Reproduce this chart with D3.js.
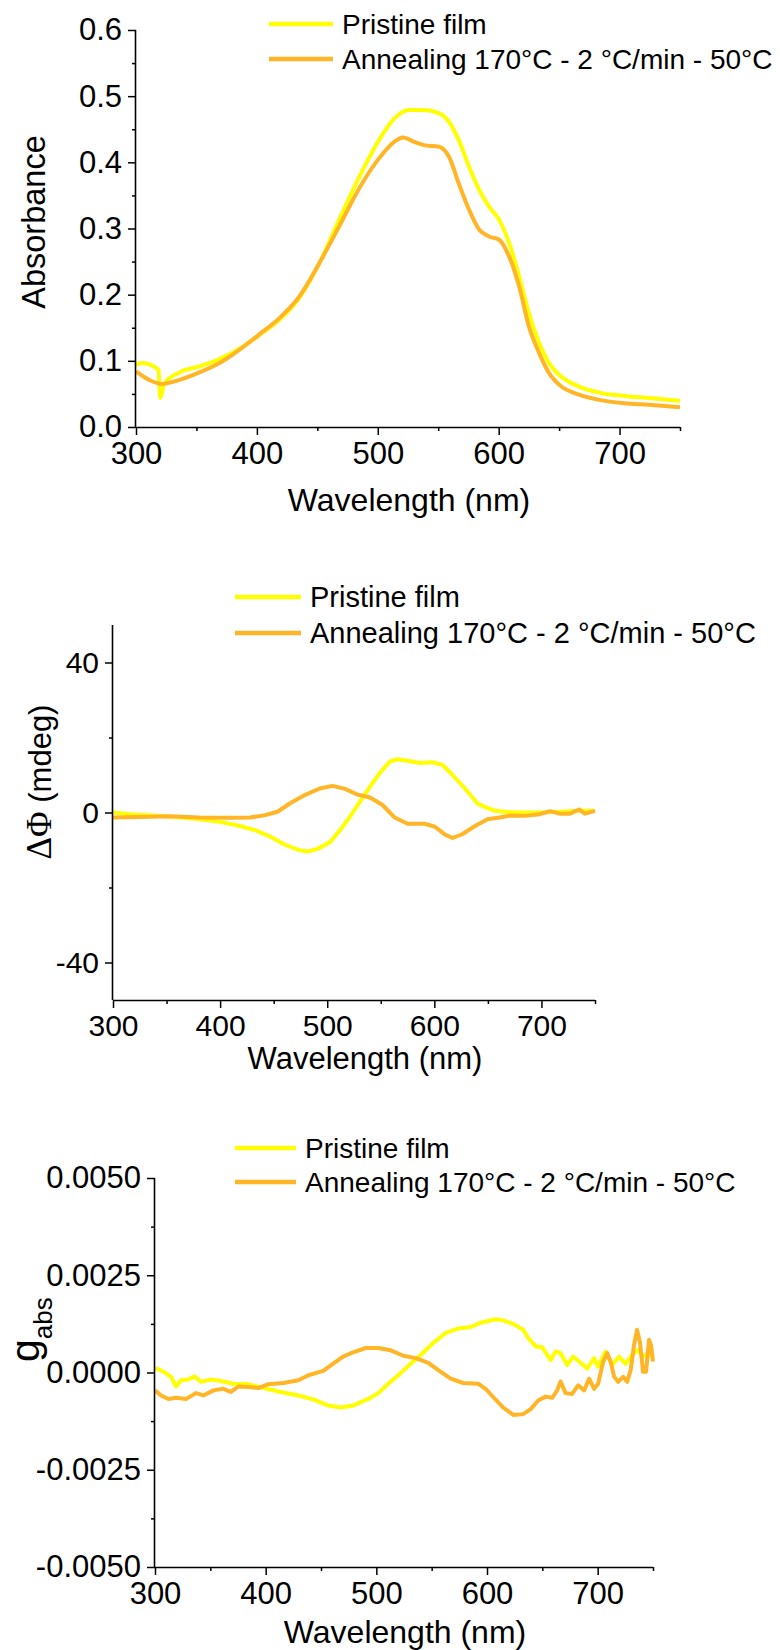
<!DOCTYPE html>
<html>
<head>
<meta charset="utf-8">
<script src="https://cdn.jsdelivr.net/npm/d3@7"></script>
<style>
  html, body { margin: 0; padding: 0; background: #fff; }
  svg { display: block; }
  text { font-family: "Liberation Sans", Arial, sans-serif; fill: #000; }
</style>
</head>
<body>
<svg id="chart" width="780" height="1650"></svg>
<script>
// ---------------- DATA ----------------
const seriesNames = ["Pristine film", "Annealing 170°C - 2 °C/min - 50°C"];
const seriesColors = ["#FFFF00", "#FFB526"];

const xTicks = [300, 400, 500, 600, 700];
const xMinorTicks = [350, 450, 550, 650, 750];

// Chart 1: Absorbance
const absTicks = [0.0, 0.1, 0.2, 0.3, 0.4, 0.5, 0.6];
const absMinorTicks = [0.05, 0.15, 0.25, 0.35, 0.45, 0.55];
const absPristine = [
  [300,0.094],[305,0.0966],[318.6,0.0866],[320,0.044],[323.5,0.066],[336,0.0825],
  [352.5,0.0916],[369,0.1026],[389.7,0.123],[402,0.139],[418.6,0.162],[435,0.195],
  [451.6,0.2475],[468,0.313],[484.7,0.378],[501,0.4336],[513.6,0.466],[526,0.479],
  [538,0.479],[550.8,0.474],[559,0.461],[567,0.4336],[575.6,0.393],[584,0.358],
  [592,0.333],[600.4,0.313],[608.7,0.278],[617,0.227],[625,0.172],[633.5,0.127],
  [641.7,0.0966],[650,0.079],[666.5,0.061],[683,0.052],[703.7,0.047],[724.4,0.0438],
  [750,0.0397]
];
const absAnnealed = [
  [300,0.084],[311,0.071],[321.5,0.065],[332,0.069],[352.5,0.0825],[369,0.0966],
  [385.5,0.1167],[402,0.140],[418.6,0.1645],[435,0.197],[451.6,0.2475],[468,0.303],
  [484.7,0.361],[501,0.406],[513.6,0.431],[521,0.4376],[530,0.431],[538,0.426],
  [550.8,0.4235],[559,0.408],[567,0.368],[575.6,0.328],[584,0.298],[592,0.288],
  [600.4,0.283],[608.7,0.2575],[617,0.212],[625,0.152],[633.5,0.1117],[641.7,0.0815],
  [650,0.064],[666.5,0.0488],[683,0.041],[703.7,0.036],[724.4,0.0337],[750,0.030]
];

// Chart 2: ΔΦ (mdeg)
const cdTicks = [-40, 0, 40];
const cdMinorTicks = [-20, 20];
const cdPristine = [
  [300,0],[316,-0.45],[334.5,-0.7],[358,-1.2],[381,-1.8],[400,-2.5],[418.6,-3.6],
  [432.6,-4.7],[446.6,-6.4],[460.6,-8.6],[474.6,-10.1],[481.6,-10.4],[491,-9.7],
  [502.6,-7.9],[512,-4.7],[521,-1.2],[530.6,2.9],[540,6.9],[549,10.5],[558.6,13.6],
  [565.6,14.2],[575,13.8],[586.6,13.2],[598,13.4],[607.6,12.7],[617,10],[628.6,6.4],
  [640.3,2.4],[647,1.5],[656.6,0.45],[666,0.2],[680,0],[698.6,0],[717,0.2],[736,0.45],
  [750,0.45]
];
const cdAnnealed = [
  [300,-1.35],[325,-1.2],[353,-1.0],[381,-1.35],[409,-1.4],[428,-1.35],[442,-0.7],
  [453.6,0.2],[465,2.4],[479,4.65],[493,6.4],[505,7.1],[516.6,6.3],[528,4.8],
  [540,4.0],[551.6,2.0],[563,-1.35],[575,-3.0],[591,-3.0],[600.6,-3.8],[610,-5.9],
  [617,-6.8],[626,-5.8],[638,-3.6],[649.6,-1.8],[661,-1.35],[670.6,-0.8],[684.6,-0.9],
  [698.6,-0.45],[708,0.35],[717,-0.3],[726.6,-0.3],[735,0.8],[740.6,-0.3],[750,0.45]
];

// Chart 3: g_abs
const gTicks = [-0.005, -0.0025, 0, 0.0025, 0.005];
const gTickLabels = ["-0.0050", "-0.0025", "0.0000", "0.0025", "0.0050"];
const gMinorTicks = [-0.00375, -0.00125, 0.00125, 0.00375];
const gPristine = [
  [300,0.00012],[307.7,0.00002],[314.4,-0.00011],[319,-0.00036],[323.5,-0.0002],
  [330,-0.00018],[335.7,-0.0001],[341.5,-0.00024],[350.6,-0.00018],[359.6,-0.00022],
  [370.9,-0.00029],[384.4,-0.0003],[398,-0.0004],[411.5,-0.00049],[429.6,-0.00059],
  [443,-0.00069],[456.6,-0.00085],[468,-0.0009],[479,-0.00085],[492.7,-0.00068],
  [501.8,-0.00053],[510.8,-0.00029],[519.8,-0.00007],[528.9,0.00017],[540,0.00045],
  [551.4,0.00076],[562.7,0.00102],[574,0.00113],[585.3,0.00117],[594.3,0.00128],
  [607.9,0.00137],[614.6,0.00134],[623.7,0.00125],[632.7,0.0011],[637.2,0.00089],
  [644,0.00067],[649.8,0.00065],[657.5,0.00032],[662,0.00054],[666.5,0.0005],
  [672.4,0.00019],[677.8,0.00041],[684.6,0.00025],[690.5,0.0001],[696.8,0.00037],
  [700.4,0.00015],[707.2,0.00054],[713,0.00019],[719.4,0.00041],[725.2,0.00022],
  [731,0.00045],[736.5,0.00058],[741,0.00041],[745.5,0.0005],[750,0.00037]
];
const gAnnealed = [
  [300,-0.00046],[305.4,-0.00059],[312.2,-0.00068],[319,-0.00065],[328,-0.00068],
  [337,-0.00053],[343.8,-0.00059],[352.8,-0.00046],[361.8,-0.00042],[368.6,-0.0005],
  [375.4,-0.00036],[384.4,-0.00037],[393.4,-0.0004],[402.5,-0.0003],[416,-0.00027],
  [429.6,-0.0002],[438.6,-0.00007],[452,0.00004],[461,0.00023],[470,0.00041],
  [479,0.00052],[490.5,0.00063],[501.8,0.00063],[513,0.00057],[524.4,0.00043],
  [535.7,0.00037],[547,0.00025],[556,0.00006],[567.2,-0.00016],[578.5,-0.00027],
  [592,-0.00029],[598.8,-0.00042],[605.6,-0.00063],[614.6,-0.0009],[623.7,-0.00109],
  [632.7,-0.00107],[639.5,-0.00094],[646.2,-0.00072],[653,-0.00062],[658.9,-0.00065],
  [663.4,-0.00046],[666.5,-0.00023],[671,-0.00053],[676.9,-0.00055],[682.3,-0.00033],
  [687.7,-0.00046],[692.3,-0.00016],[696.8,-0.00042],[700.4,-0.00029],[705,0.00028],
  [708.6,0.0005],[711.7,0.00028],[714.9,-0.00011],[718.5,-0.00024],[723,-0.00011],
  [726.6,-0.00024],[729.8,0.00006],[732.9,0.00071],[735.6,0.0011],[738.3,0.00076],
  [741,0.00002],[743.7,0.00002],[746.4,0.00084],[748.2,0.00071],[750,0.00028]
];

// ---------------- DRAWING ----------------
const svg = d3.select("#chart");
const sansFont = '"Liberation Sans", Arial, sans-serif';

function drawPanel(cfg) {
  const g = svg.append("g");
  const x = d3.scaleLinear().domain([300, 750]).range([cfg.left, cfg.right]);
  const y = d3.scaleLinear().domain(cfg.yDomain).range([cfg.bottom, cfg.top]);

  // Series
  const line = d3.line().x(d => x(d[0])).y(d => y(d[1])).curve(cfg.curve);
  cfg.series.forEach((s, i) => {
    g.append("path").datum(s)
      .attr("fill", "none")
      .attr("stroke", seriesColors[i])
      .attr("stroke-width", 4)
      .attr("stroke-linejoin", "round")
      .attr("d", line);
  });

  // X axis
  const xAxis = d3.axisBottom(x).tickValues(xTicks).tickSize(8).tickPadding(cfg.xPad)
    .tickFormat(d3.format("d"));
  const gx = g.append("g").attr("transform", `translate(0,${cfg.bottom})`).call(xAxis);
  gx.select(".domain").attr("stroke", "#000").attr("stroke-width", 1.6)
    .attr("d", `M${cfg.left},0.5H${cfg.right}`);
  gx.selectAll(".tick line").attr("stroke", "#000").attr("stroke-width", 1.5);
  gx.selectAll(".tick text").attr("font-size", cfg.tickFont).attr("fill", "#000")
    .style("font-family", sansFont);
  const gxm = g.append("g").attr("transform", `translate(0,${cfg.bottom})`)
    .call(d3.axisBottom(x).tickValues(xMinorTicks).tickSize(4).tickFormat(""));
  gxm.select(".domain").remove();
  gxm.selectAll(".tick line").attr("stroke", "#000").attr("stroke-width", 1.5);

  // Y axis
  const yAxis = d3.axisLeft(y).tickValues(cfg.yTicks).tickSize(8).tickPadding(cfg.yPad)
    .tickFormat(cfg.yFormat);
  const gy = g.append("g").attr("transform", `translate(${cfg.left},0)`).call(yAxis);
  gy.select(".domain").attr("stroke", "#000").attr("stroke-width", 1.6)
    .attr("d", `M-0.5,${cfg.top}V${cfg.bottom}`);
  gy.selectAll(".tick line").attr("stroke", "#000").attr("stroke-width", 1.5);
  gy.selectAll(".tick text").attr("font-size", cfg.tickFont).attr("fill", "#000")
    .style("font-family", sansFont);
  const gym = g.append("g").attr("transform", `translate(${cfg.left},0)`)
    .call(d3.axisLeft(y).tickValues(cfg.yMinor).tickSize(4).tickFormat(""));
  gym.select(".domain").remove();
  gym.selectAll(".tick line").attr("stroke", "#000").attr("stroke-width", 1.5);

  // X title
  g.append("text").attr("x", cfg.xTitleX).attr("y", cfg.xTitleY)
    .attr("text-anchor", "middle").attr("font-size", cfg.titleFont)
    .text("Wavelength (nm)");

  // Y title
  cfg.yTitle(g);

  // Legend
  seriesNames.forEach((name, i) => {
    const ly = cfg.legendY[i];
    g.append("line").attr("x1", cfg.legendX1).attr("x2", cfg.legendX2)
      .attr("y1", ly).attr("y2", ly)
      .attr("stroke", seriesColors[i]).attr("stroke-width", 4.5);
    g.append("text").attr("x", cfg.legendTextX).attr("y", ly + cfg.legendFont * 0.36)
      .attr("font-size", cfg.legendFont).text(name);
  });
}

// Panel 1
drawPanel({
  left: 136, right: 680, top: 30, bottom: 427,
  yDomain: [0, 0.6], yTicks: absTicks, yMinor: absMinorTicks, yFormat: d3.format(".1f"),
  series: [absPristine, absAnnealed], curve: d3.curveMonotoneX,
  tickFont: 31, titleFont: 32, xPad: 7, yPad: 6,
  xTitleX: 409, xTitleY: 511,
  yTitle: g => g.append("text").attr("transform", "translate(45,222) rotate(-90)")
    .attr("text-anchor", "middle").attr("font-size", 32.5).text("Absorbance"),
  legendX1: 269, legendX2: 333, legendTextX: 342, legendY: [24, 59], legendFont: 28
});

// Panel 2
drawPanel({
  left: 113, right: 595, top: 625, bottom: 1000,
  yDomain: [-50, 50], yTicks: cdTicks, yMinor: cdMinorTicks,
  yFormat: d => String(d),
  series: [cdPristine, cdAnnealed], curve: d3.curveLinear,
  tickFont: 30, titleFont: 31, xPad: 7, yPad: 6,
  xTitleX: 365, xTitleY: 1069,
  yTitle: g => {
    const t = g.append("text").attr("transform", "translate(51,782) rotate(-90)")
      .attr("text-anchor", "middle").attr("font-size", 31);
    t.append("tspan").attr("font-size", 35)
      .style("font-family", '"Liberation Serif", "Times New Roman", serif').text("ΔΦ");
    t.append("tspan").text(" (mdeg)");
  },
  legendX1: 235, legendX2: 301, legendTextX: 310, legendY: [597, 633], legendFont: 29
});

// Panel 3
drawPanel({
  left: 155, right: 653, top: 1178, bottom: 1567,
  yDomain: [-0.005, 0.005], yTicks: gTicks, yMinor: gMinorTicks,
  yFormat: d => gTickLabels[gTicks.indexOf(d)],
  series: [gPristine, gAnnealed], curve: d3.curveLinear,
  tickFont: 31, titleFont: 32, xPad: 7, yPad: 6,
  xTitleX: 405, xTitleY: 1643,
  yTitle: g => {
    const t = g.append("text").attr("transform", "translate(39,1362) rotate(-90)")
      .attr("text-anchor", "start");
    t.append("tspan").attr("font-size", 41).text("g");
    t.append("tspan").attr("font-size", 26).attr("dy", 13).text("abs");
  },
  legendX1: 235, legendX2: 296, legendTextX: 305, legendY: [1148, 1182], legendFont: 28
});
</script>
</body>
</html>
